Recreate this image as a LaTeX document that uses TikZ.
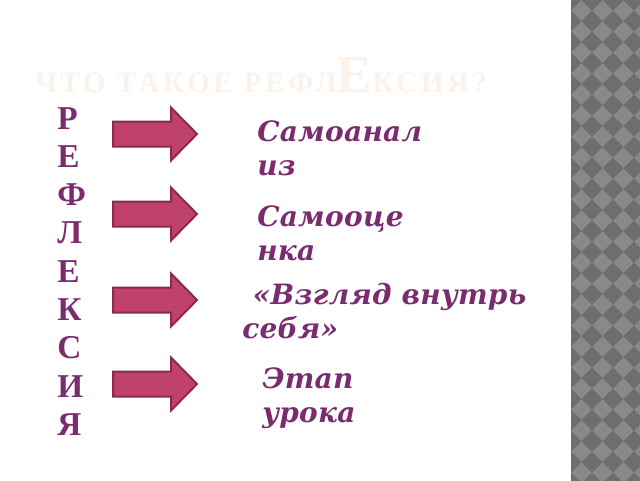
\documentclass[tikz,border=0pt]{standalone}
\usepackage{fontspec}
\usepackage{tikz}
\usetikzlibrary{calc}
\setmainfont{Liberation Serif}
\newfontfamily\labelfont[LetterSpace=1]{DejaVu Serif}
\newfontfamily\headfont[LetterSpace=12]{Liberation Serif}
\definecolor{plum}{HTML}{7B2C6F}
\definecolor{rosefill}{HTML}{C0416B}
\definecolor{roseline}{HTML}{8C2A4A}
\definecolor{ghost}{HTML}{FDF2EA}
\definecolor{checklight}{HTML}{898989}
\definecolor{checkdark}{HTML}{6E6E6E}

\begin{document}
\begin{tikzpicture}[x=0.75pt,y=-0.75pt,
        letter/.style={anchor=base west, inner sep=0pt, text=plum,
          font=\fontsize{25}{25}\selectfont\bfseries},
        item/.style={anchor=base west, inner sep=0pt, align=left, text=plum,
          font=\labelfont\fontsize{21}{25}\selectfont\bfseries\itshape},
        blockarrow/.style={fill=rosefill, draw=roseline, line width=1.5pt, line join=miter},
        heading/.style={anchor=base west, inner sep=0pt, text=ghost,
          font=\headfont\fontsize{22}{22}\selectfont\bfseries}
      ]
    \useasboundingbox (0,0) rectangle (640,480);

    % right strip
    \begin{scope}
      \clip (571,0) rectangle (640,480);
      \fill[checklight] (560,-10) rectangle (650,490);
      \foreach \a in {0,...,4} {
        \foreach \b in {0,...,24} {
          \fill[checkdark] ($(571,0)+(21*\a,21*\b)$) +(-10.5,0) -- +(0,-10.5) -- +(10.5,0) -- +(0,10.5) -- cycle;
        }
      }
    \end{scope}

    \node[heading] (title) at (35,92) {ЧТО ТАКОЕ РЕФЛ{\fontsize{40}{40}\selectfont Е}КСИЯ?};

    \foreach \ch [count=\i] in {Р,Е,Ф,Л,Е,К,С,И,Я} {
      \node[letter] (l\i) at (57,{129+38.3*(\i-1)}) {\ch};
    }

    \foreach \y [count=\i] in {134,214,300,384} {
      \draw[blockarrow] (113,\y-12.5) -- (171,\y-12.5) -- (171,\y-26.5) -- (197,\y)
        -- (171,\y+26.5) -- (171,\y+12.5) -- (113,\y+12.5) -- cycle;
    }

    % anchor is the baseline of the last line
    \node[item] (t1) at (257,175) {Самоанал\\из};
    \node[item] (t2) at (257,260) {Самооце\\нка};
    \node[item] (t3) at (242,338) {\hspace*{8pt}«Взгляд внутрь\\себя»};
    \node[item] (t4) at (262,422) {Этап\\урока};

    \end{tikzpicture}
\end{document}
